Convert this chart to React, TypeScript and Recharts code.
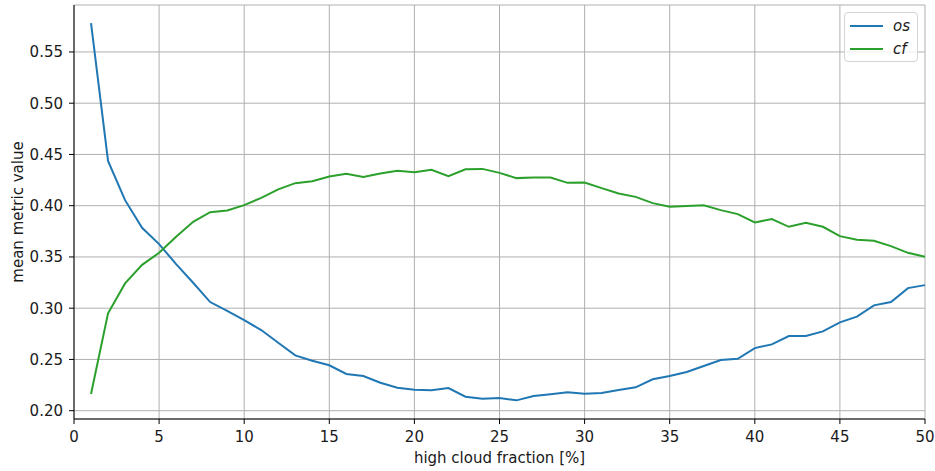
import React from "react";
import {
  LineChart,
  Line,
  XAxis,
  YAxis,
  CartesianGrid,
  Legend,
} from "recharts";

// high cloud fraction bins [%]
const fractions: number[] = [
  1, 2, 3, 4, 5, 6, 7, 8, 9, 10, 11, 12, 13, 14, 15, 16, 17, 18, 19, 20, 21, 22,
  23, 24, 25, 26, 27, 28, 29, 30, 31, 32, 33, 34, 35, 36, 37, 38, 39, 40, 41, 42,
  43, 44, 45, 46, 47, 48, 49, 50,
];

// mean metric value per bin, "os"
const osValues: number[] = [
  0.578, 0.4437, 0.4054, 0.3784, 0.3625, 0.343, 0.3248, 0.306, 0.2975, 0.2884,
  0.2787, 0.2663, 0.254, 0.2488, 0.2443, 0.2358, 0.2338, 0.2273, 0.2224, 0.2205,
  0.2199, 0.2221, 0.2137, 0.2117, 0.2124, 0.2101, 0.2143, 0.216, 0.2179, 0.2166,
  0.2173, 0.2202, 0.2228, 0.2306, 0.2338, 0.2377, 0.2436, 0.2494, 0.2507, 0.2611,
  0.2647, 0.2728, 0.2728, 0.2774, 0.2862, 0.2917, 0.3028, 0.306, 0.3196, 0.3225,
];

// mean metric value per bin, "cf"
const cfValues: number[] = [
  0.2163, 0.295, 0.3242, 0.3423, 0.354, 0.3697, 0.3843, 0.3937, 0.3954, 0.4005,
  0.4077, 0.4159, 0.422, 0.4239, 0.4285, 0.4311, 0.4281, 0.4314, 0.434, 0.4327,
  0.435, 0.4288, 0.4356, 0.4359, 0.432, 0.4269, 0.4275, 0.4275, 0.4223, 0.4227,
  0.4171, 0.4119, 0.4086, 0.4025, 0.3989, 0.3996, 0.4005, 0.3957, 0.3918, 0.3837,
  0.3869, 0.3794, 0.3833, 0.3794, 0.3703, 0.3667, 0.3657, 0.3606, 0.354, 0.3501,
];

const xTicks: number[] = [0, 5, 10, 15, 20, 25, 30, 35, 40, 45, 50];
const yTicks: number[] = [0.2, 0.25, 0.3, 0.35, 0.4, 0.45, 0.5, 0.55];

const seriesOrder: string[] = ["os", "cf"];
const colors: Record<string, string> = { os: "#1f77b4", cf: "#2ca02c" };

const rows = fractions.map((f, i) => ({
  fraction: f,
  os: osValues[i],
  cf: cfValues[i],
}));

const FONT = "'DejaVu Sans', sans-serif";
const FS = 15;
const TEXT = "#1a1a1a";

const YTitle = (props: any) => {
  const vb = props.viewBox || { x: 0, y: 0, width: 0, height: 0 };
  const cx = vb.x + 23;
  const cy = vb.y + vb.height / 2;
  return (
    <text
      x={cx}
      y={cy}
      transform={`rotate(-90 ${cx} ${cy})`}
      textAnchor="middle"
      fontFamily={FONT}
      fontSize={FS}
      fill={TEXT}
    >
      mean metric value
    </text>
  );
};

const LegendBox = (props: any) => {
  const items = [...(props.payload || [])].sort(
    (a: any, b: any) =>
      seriesOrder.indexOf(a.dataKey) - seriesOrder.indexOf(b.dataKey)
  );
  return (
    <div
      style={{
        boxSizing: "border-box",
        width: 74,
        height: 50,
        border: "1px solid #d4d4d4",
        borderRadius: 4,
        background: "rgba(255,255,255,0.8)",
        padding: "1px 0 0 5px",
        fontFamily: FONT,
        fontSize: FS,
        fontStyle: "italic",
        color: TEXT,
      }}
    >
      {items.map((it: any) => (
        <div
          key={it.value}
          style={{ display: "flex", alignItems: "center", height: 23 }}
        >
          <span
            style={{
              display: "inline-block",
              width: 33,
              height: 2,
              background: it.color,
              marginRight: 10,
            }}
          />
          <span style={{ lineHeight: "16px" }}>{it.value}</span>
        </div>
      ))}
    </div>
  );
};

export default function App() {
  return (
    <div style={{ position: "absolute", left: 0, top: 0 }}>
      <LineChart
        width={935}
        height={471}
        data={rows}
        margin={{ top: 5, right: 10, bottom: 0, left: 0 }}
      >
        <CartesianGrid stroke="#b0b0b0" strokeWidth={1} />
        <XAxis
          dataKey="fraction"
          type="number"
          domain={[0, 50]}
          ticks={xTicks}
          height={52}
          tickSize={5}
          tickMargin={7}
          stroke="#000"
          tick={{ fontFamily: FONT, fontSize: FS, fill: TEXT }}
          label={{
            value: "high cloud fraction [%]",
            position: "insideBottom",
            offset: 8,
            fontFamily: FONT,
            fontSize: FS,
            fill: TEXT,
          }}
        />
        <XAxis
          xAxisId="top"
          orientation="top"
          dataKey="fraction"
          type="number"
          domain={[0, 50]}
          height={0}
          tick={false}
          tickLine={false}
          stroke="#000"
        />
        <YAxis
          type="number"
          domain={[0.1919, 0.5958]}
          ticks={yTicks}
          width={74}
          tickSize={5}
          tickMargin={6}
          stroke="#000"
          tickFormatter={(v: number) => v.toFixed(2)}
          tick={{ fontFamily: FONT, fontSize: FS, fill: TEXT }}
          label={<YTitle />}
        />
        <YAxis
          yAxisId="right"
          orientation="right"
          type="number"
          domain={[0.1919, 0.5958]}
          width={0}
          tick={false}
          tickLine={false}
          stroke="#000"
        />
        <Legend
          layout="horizontal"
          verticalAlign="middle"
          align="center"
          content={<LegendBox />}
          wrapperStyle={{
            top: 12,
            left: 844,
            right: "auto",
            bottom: "auto",
            width: 74,
            height: 50,
          }}
        />
        <Line
          type="linear"
          dataKey="os"
          name="os"
          stroke={colors.os}
          strokeWidth={2}
          dot={false}
          isAnimationActive={false}
        />
        <Line
          type="linear"
          dataKey="cf"
          name="cf"
          stroke={colors.cf}
          strokeWidth={2}
          dot={false}
          isAnimationActive={false}
        />
      </LineChart>
    </div>
  );
}
